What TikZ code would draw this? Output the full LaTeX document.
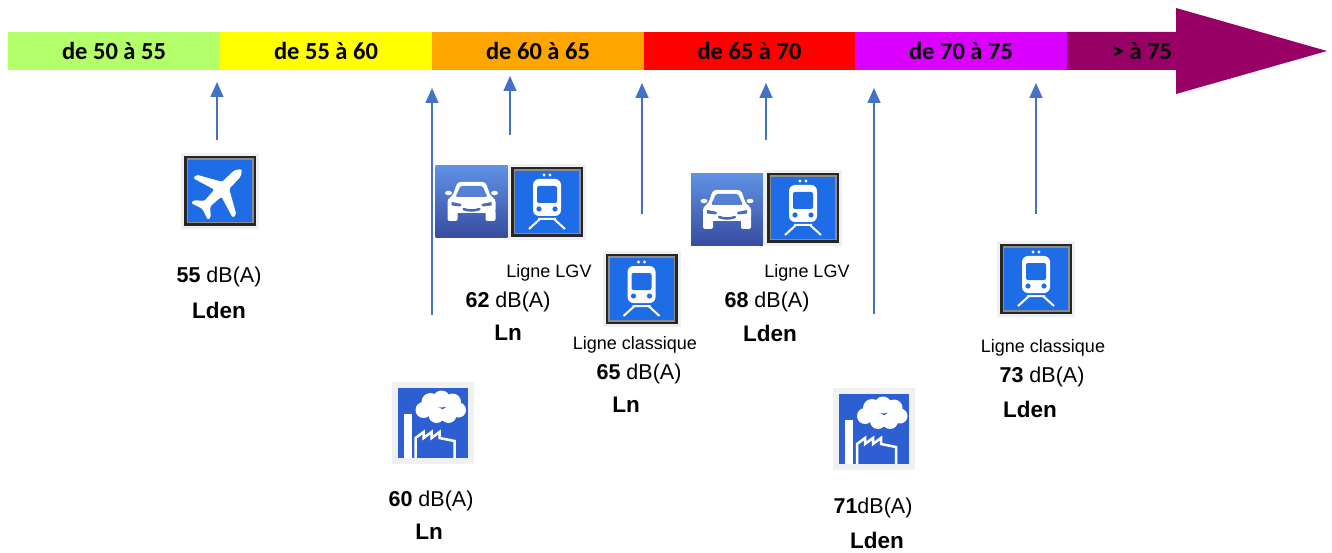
\documentclass[tikz,border=0pt]{standalone}
\usepackage{fontspec}
\setmainfont{Liberation Sans}
\newfontfamily\barfont{Carlito}
\usetikzlibrary{arrows.meta}

\definecolor{lvlA}{RGB}{179,255,105}
\definecolor{lvlB}{RGB}{255,255,0}
\definecolor{lvlC}{RGB}{255,165,0}
\definecolor{lvlD}{RGB}{255,0,0}
\definecolor{lvlE}{RGB}{218,0,255}
\definecolor{lvlF}{RGB}{153,0,102}
\definecolor{pointerblue}{RGB}{68,114,196}
\definecolor{signblue}{RGB}{30,108,230}
\definecolor{carlight}{RGB}{95,145,228}
\definecolor{cardark}{RGB}{55,75,160}
\definecolor{factoryblue}{RGB}{45,95,210}

\begin{document}
\begin{tikzpicture}[x=1pt,y=-1pt]
            \tikzset{band/.style = {minimum height=38pt, inner sep=0pt, outer sep=0pt, font=\barfont\bfseries\fontsize{24.5}{27}\selectfont}}
            \tikzset{pointer/.style = {draw=pointerblue, line width=1.6pt, -{Triangle[length=15pt,width=13pt]}}}
            \tikzset{value/.style = {inner sep=0pt, font=\fontsize{21.5}{24}\selectfont}}
            \tikzset{metric/.style = {inner sep=0pt, font=\bfseries\fontsize{22.5}{24}\selectfont}}
            \tikzset{route/.style = {inner sep=0pt, font=\fontsize{18}{20}\selectfont}}
            % icons
            \tikzset{signframe/.pic = {
                \fill[black!6] (-39,-38) rectangle (39,38);
                \fill[black!85] (-36,-35) rectangle (36,35);
                \fill[black!45] (-33.5,-32.5) rectangle (33.5,32.5);
                \fill[signblue] (-32,-31) rectangle (32,31);}}
            \tikzset{trainsign/.pic = {
                \pic {signframe};
                \fill[white, rounded corners=6pt] (-14,-23) rectangle (14,14);
                \fill[signblue, rounded corners=2pt] (-10,-16) rectangle (10,1);
                \fill[signblue] (-8,7) circle (2.6) (8,7) circle (2.6);
                \fill[white] (-3,-27) circle (1.6) (3,-27) circle (1.6);
                \draw[white, line width=2pt] (-9,17) -- (9,17) (-7,17) -- (-18,27) (7,17) -- (18,27);}}
            \tikzset{planesign/.pic = {
                \pic {signframe};
                \fill[white, rotate=-45, rounded corners=1.5pt] (0,-31) -- (4.5,-25) -- (5,-8) -- (28,5) -- (28,10) -- (5,3)
                    -- (4,18) -- (12,25) -- (12,29) -- (0,25) -- (-12,29) -- (-12,25) -- (-4,18) -- (-5,3)
                    -- (-28,10) -- (-28,5) -- (-5,-8) -- (-4.5,-25) -- cycle;}}
            \tikzset{carsign/.pic = {
                \shade[top color=carlight, bottom color=cardark] (-36,-36) rectangle (36,36);
                \fill[white, rounded corners=3pt] (-14,-20) -- (14,-20) -- (19,-6) -- (24,-3) -- (24,11) -- (-24,11) -- (-24,-3) -- (-19,-6) -- cycle;
                \fill[white, rounded corners=2pt] (-24,8) rectangle (-14,19) (14,8) rectangle (24,19);
                \fill[white] (-23,-9) ellipse (3.5 and 2.2) (23,-9) ellipse (3.5 and 2.2);
                \fill[carlight!75!cardark, rounded corners=1.5pt] (-11,-16) -- (11,-16) -- (16,-5) -- (-16,-5) -- cycle;
                \fill[carlight!45!cardark] (-20,0) -- (-10,2) -- (-11,4.5) -- (-20,3.5) -- cycle;
                \fill[carlight!45!cardark] (20,0) -- (10,2) -- (11,4.5) -- (20,3.5) -- cycle;
                \draw[carlight!40!cardark, line width=2.5pt, line cap=round] (-8,7) .. controls (-3,9) and (3,9) .. (8,7);}}
            \tikzset{factorysign/.pic = {
                \fill[black!6] (-41,-41) rectangle (41,41);
                \fill[factoryblue] (-35,-35) rectangle (35,35);
                \fill[white] (-9,-13) circle (8) (-2,-21) circle (9) (9,-24) circle (8.5) (20,-21) circle (8.5)
                    (26,-13) circle (7.5) (16,-8) circle (8) (4,-8) circle (8);
                \fill[white] (-29,-9) rectangle (-21,35);
                \draw[white, line width=2.5pt] (-17,35) -- (-17,15) -- (-9,9) -- (-9,15) -- (-1,9) -- (-1,15) -- (7,9) -- (7,15)
                    -- (22,18) -- (22,35);}}
            % scale bar
            \node[band, fill=lvlA, minimum width=212pt] (b1) at (114,51) {de 50 à 55};
            \node[band, fill=lvlB, minimum width=212pt] (b2) at (326,51) {de 55 à 60};
            \node[band, fill=lvlC, minimum width=212pt] (b3) at (538,51) {de 60 à 65};
            \node[band, fill=lvlD, minimum width=211pt] (b4) at (749.5,51) {de 65 à 70};
            \node[band, fill=lvlE, minimum width=212pt] (b5) at (961,51) {de 70 à 75};
            \fill[lvlF] (1067,32) -- (1176,32) -- (1176,8) -- (1327,51) -- (1176,94) -- (1176,70) -- (1067,70) -- cycle;
            \node[band] (b6) at (1142,51) {> à 75};
            % signs
            \pic (plane) at (220,191) {planesign};
            \pic (car1) at (471.5,202) {carsign};
            \pic (lgv1) at (547,202) {trainsign};
            \pic (tc1) at (641.5,289) {trainsign};
            \pic (usine1) at (432.5,423) {factorysign};
            \pic (car2) at (727,210) {carsign};
            \pic (lgv2) at (803,208) {trainsign};
            \pic (usine2) at (874,429) {factorysign};
            \pic (tc2) at (1036,279) {trainsign};
            % labels
            \node[value] (v55) at (219,277) {\textbf{55} dB(A)};
            \node[metric] (m55) at (219,310) {Lden};
            \node[value] (v60) at (431,501) {\textbf{60} dB(A)};
            \node[metric] (m60) at (429,532) {Ln};
            \node[route] (r62) at (549,273) {Ligne LGV};
            \node[value] (v62) at (508,302) {\textbf{62} dB(A)};
            \node[metric] (m62) at (508,333) {Ln};
            \node[route] (r65) at (635,345) {Ligne classique};
            \node[value] (v65) at (639,374) {\textbf{65} dB(A)};
            \node[metric] (m65) at (626,405) {Ln};
            \node[route] (r68) at (807,273) {Ligne LGV};
            \node[value] (v68) at (767,302) {\textbf{68} dB(A)};
            \node[metric] (m68) at (770,333) {Lden};
            \node[value] (v71) at (873,508) {\textbf{71}dB(A)};
            \node[metric] (m71) at (877,540) {Lden};
            \node[route] (r73) at (1043,348) {Ligne classique};
            \node[value] (v73) at (1042,377) {\textbf{73} dB(A)};
            \node[metric] (m73) at (1030,409) {Lden};
            % pointers
            \coordinate (s1) at (217,140);  \coordinate (e1) at (217,82);
            \coordinate (s2) at (432,315);  \coordinate (e2) at (432,88);
            \coordinate (s3) at (510,135);  \coordinate (e3) at (510,76);
            \coordinate (s4) at (642,214);  \coordinate (e4) at (642,83);
            \coordinate (s5) at (766,140);  \coordinate (e5) at (766,83);
            \coordinate (s6) at (874,314);  \coordinate (e6) at (874,88);
            \coordinate (s7) at (1036,214); \coordinate (e7) at (1036,83);
            \draw[pointer] (s1) -- (e1);
            \draw[pointer] (s2) -- (e2);
            \draw[pointer] (s3) -- (e3);
            \draw[pointer] (s4) -- (e4);
            \draw[pointer] (s5) -- (e5);
            \draw[pointer] (s6) -- (e6);
            \draw[pointer] (s7) -- (e7);
            \useasboundingbox (0,0) rectangle (1332,553);
        \end{tikzpicture}
\end{document}
